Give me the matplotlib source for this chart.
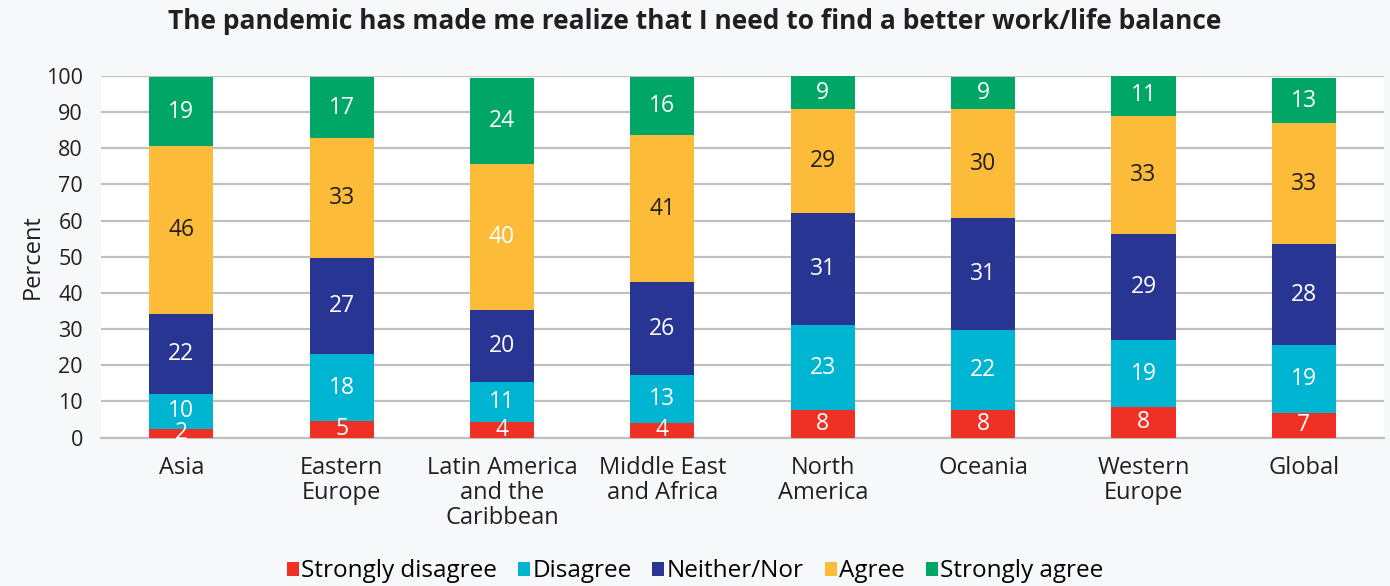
import matplotlib
matplotlib.use("Agg")
import matplotlib.pyplot as plt
import numpy as np

plt.rcParams['font.family'] = ['Open Sans', 'DejaVu Sans']

title = "The pandemic has made me realize that I need to find a better work/life balance"
categories = ["Asia", "Eastern\nEurope", "Latin America\nand the\nCaribbean", "Middle East\nand Africa",
              "North\nAmerica", "Oceania", "Western\nEurope", "Global"]
series_names = ["Strongly disagree", "Disagree", "Neither/Nor", "Agree", "Strongly agree"]
strongly_disagree = [2.4, 4.6, 4.4, 4.0, 7.6, 7.6, 8.4, 6.9]
disagree          = [9.7, 18.4, 11.0, 13.3, 23.4, 22.1, 18.6, 18.6]
neither           = [22.0, 26.6, 19.9, 25.6, 31.0, 30.9, 29.4, 27.9]
agree             = [46.4, 33.1, 40.4, 40.6, 28.9, 30.2, 32.6, 33.4]
strongly_agree    = [19.2, 16.9, 23.6, 16.2, 8.9, 8.9, 11.1, 12.7]
y_ticks = [0, 10, 20, 30, 40, 50, 60, 70, 80, 90, 100]

colors = ["#ee3124", "#00b5d1", "#283593", "#fdbb3a", "#00a665"]
label_colors = ["white", "white", "white", "#231f20", "white"]

data = [strongly_disagree, disagree, neither, agree, strongly_agree]

fig = plt.figure(figsize=(13.9, 5.86), dpi=100, facecolor="#f7f8fa")
ax = fig.add_axes([0.0727, 0.2531, 0.9230, 0.6177])
ax.set_facecolor("white")

x = np.arange(len(categories))
bottom = np.zeros(len(categories))
for i, (name, vals) in enumerate(zip(series_names, data)):
    vals = np.array(vals)
    ax.bar(x, vals, 0.4, bottom=bottom, color=colors[i], label=name, zorder=3)
    for j, v in enumerate(vals):
        c = label_colors[i]
        if i == 3 and j == 2:
            c = "white"
        ax.text(x[j], bottom[j] + v / 2, f"{round(v):d}", ha="center", va="center",
                color=c, fontsize=16.5, zorder=4)
    bottom += vals

ax.set_xlim(-0.5, len(categories) - 0.5)
ax.set_ylim(0, 100)
ax.set_yticks(y_ticks)
ax.set_yticklabels([str(t) for t in y_ticks], fontsize=15.5, color="#231f20")
ax.set_xticks(x)
ax.set_xticklabels(categories, fontsize=17, color="#231f20", linespacing=1.05)
ax.tick_params(axis="both", length=0)
ax.tick_params(axis="x", pad=13)
ax.tick_params(axis="y", pad=13)
ax.yaxis.grid(True, color="#c0c0c0", linewidth=1.6, zorder=0)
for s in ["top", "right", "left"]:
    ax.spines[s].set_visible(False)
ax.spines["bottom"].set_color("#c0c0c0")
ax.spines["bottom"].set_linewidth(1.6)
ax.set_ylabel("Percent", fontsize=17, color="#231f20", labelpad=1)

fig.text(0.5, 0.963, title, ha="center", va="center", fontsize=19, fontweight="bold", color="#231f20")

leg = fig.legend(loc="center", bbox_to_anchor=(0.5, 0.025), ncol=5, frameon=False, fontsize=17.5,
                 handlelength=0.5, handleheight=0.5, handletextpad=0.1, columnspacing=0.85)

fig.savefig("out.png", dpi=100, facecolor=fig.get_facecolor())
